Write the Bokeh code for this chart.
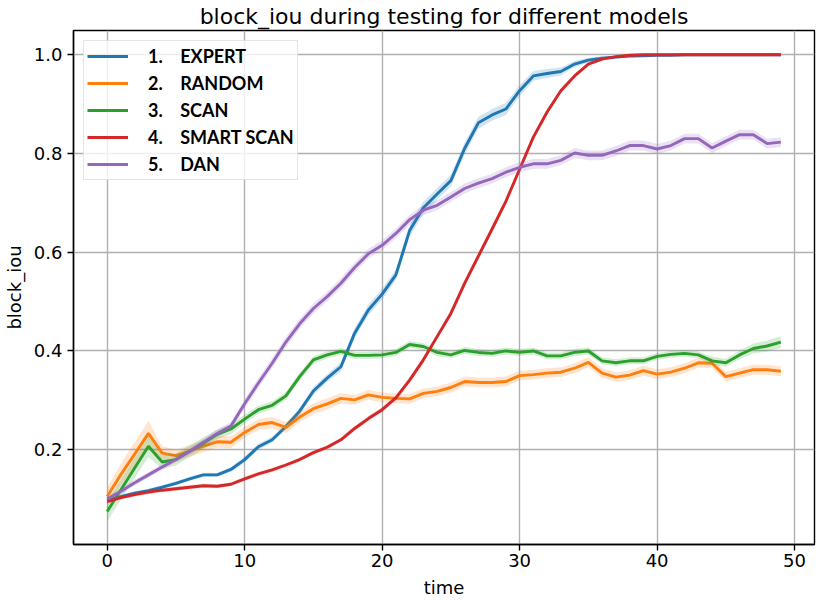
from bokeh.plotting import figure
from bokeh.models import ColumnDataSource, Legend, LegendItem, FixedTicker, PrintfTickFormatter, Range1d
from bokeh.embed import file_html
from bokeh.resources import INLINE

time = list(range(50))

expert = [0.098, 0.105, 0.112, 0.117, 0.124, 0.132, 0.141, 0.149, 0.149, 0.160,
          0.180, 0.206, 0.220, 0.247, 0.278, 0.319, 0.345, 0.368, 0.436, 0.483,
          0.515, 0.554, 0.644, 0.690, 0.718, 0.745, 0.810, 0.862, 0.878, 0.890,
          0.927, 0.957, 0.962, 0.966, 0.981, 0.989, 0.993, 0.995, 0.997, 0.998,
          0.999, 0.999, 1.000, 1.000, 1.000, 1.000, 1.000, 1.000, 1.000, 1.000]
expert_sd = [0.004, 0.004, 0.004, 0.004, 0.004, 0.004, 0.004, 0.004, 0.004, 0.005,
             0.006, 0.006, 0.006, 0.006, 0.007, 0.008, 0.008, 0.009, 0.010, 0.011,
             0.011, 0.011, 0.012, 0.012, 0.012, 0.012, 0.012, 0.012, 0.012, 0.012,
             0.011, 0.010, 0.009, 0.008, 0.006, 0.005, 0.004, 0.003, 0.002, 0.002,
             0.001, 0.001, 0.001, 0.001, 0.001, 0.001, 0.001, 0.001, 0.001, 0.001]

random_ = [0.105, 0.150, 0.191, 0.233, 0.193, 0.188, 0.197, 0.207, 0.216, 0.215,
           0.235, 0.251, 0.255, 0.245, 0.266, 0.283, 0.293, 0.304, 0.301, 0.311,
           0.306, 0.304, 0.303, 0.314, 0.318, 0.326, 0.338, 0.336, 0.336, 0.338,
           0.350, 0.352, 0.355, 0.357, 0.365, 0.377, 0.355, 0.347, 0.351, 0.360,
           0.353, 0.357, 0.365, 0.376, 0.375, 0.348, 0.355, 0.362, 0.362, 0.359]
random_sd = [0.018, 0.022, 0.024, 0.025, 0.014, 0.012, 0.012, 0.012, 0.012, 0.012,
             0.011, 0.011, 0.011, 0.011, 0.011, 0.011, 0.011, 0.011, 0.010, 0.010,
             0.010, 0.010, 0.010, 0.010, 0.010, 0.010, 0.010, 0.010, 0.010, 0.010,
             0.010, 0.010, 0.010, 0.010, 0.010, 0.010, 0.010, 0.010, 0.010, 0.010,
             0.010, 0.010, 0.010, 0.010, 0.010, 0.010, 0.010, 0.010, 0.010, 0.010]

scan = [0.075, 0.119, 0.163, 0.207, 0.175, 0.180, 0.197, 0.213, 0.231, 0.242,
        0.262, 0.281, 0.290, 0.309, 0.348, 0.382, 0.392, 0.399, 0.391, 0.391,
        0.392, 0.397, 0.413, 0.409, 0.397, 0.392, 0.401, 0.397, 0.395, 0.400,
        0.397, 0.400, 0.390, 0.390, 0.397, 0.400, 0.380, 0.376, 0.380, 0.380,
        0.389, 0.393, 0.395, 0.392, 0.380, 0.376, 0.392, 0.405, 0.410, 0.418]
scan_sd = [0.020, 0.020, 0.020, 0.022, 0.014, 0.012, 0.012, 0.012, 0.010, 0.010,
           0.009, 0.008, 0.008, 0.008, 0.008, 0.008, 0.007, 0.007, 0.007, 0.007,
           0.007, 0.007, 0.007, 0.007, 0.007, 0.007, 0.007, 0.007, 0.007, 0.007,
           0.007, 0.007, 0.007, 0.007, 0.007, 0.007, 0.007, 0.007, 0.007, 0.007,
           0.007, 0.007, 0.007, 0.007, 0.008, 0.008, 0.009, 0.010, 0.011, 0.012]

smart_scan = [0.095, 0.103, 0.109, 0.114, 0.118, 0.121, 0.124, 0.127, 0.126, 0.130,
              0.141, 0.151, 0.159, 0.169, 0.180, 0.194, 0.205, 0.220, 0.243, 0.263,
              0.281, 0.305, 0.341, 0.382, 0.429, 0.476, 0.537, 0.592, 0.647, 0.703,
              0.768, 0.833, 0.884, 0.927, 0.957, 0.981, 0.991, 0.996, 0.999, 1.000,
              1.000, 1.000, 1.000, 1.000, 1.000, 1.000, 1.000, 1.000, 1.000, 1.000]
smart_scan_sd = [0.004, 0.004, 0.004, 0.004, 0.004, 0.004, 0.004, 0.004, 0.004, 0.004,
                 0.004, 0.004, 0.004, 0.004, 0.004, 0.004, 0.004, 0.004, 0.005, 0.005,
                 0.005, 0.005, 0.006, 0.006, 0.006, 0.007, 0.007, 0.007, 0.007, 0.007,
                 0.007, 0.006, 0.006, 0.005, 0.004, 0.003, 0.002, 0.001, 0.001, 0.001,
                 0.001, 0.001, 0.001, 0.001, 0.001, 0.001, 0.001, 0.001, 0.001, 0.001]

dan = [0.100, 0.116, 0.133, 0.149, 0.165, 0.180, 0.197, 0.215, 0.233, 0.248,
       0.293, 0.335, 0.375, 0.418, 0.455, 0.486, 0.510, 0.537, 0.569, 0.597,
       0.614, 0.638, 0.666, 0.685, 0.695, 0.712, 0.729, 0.740, 0.749, 0.762,
       0.772, 0.779, 0.779, 0.786, 0.801, 0.796, 0.796, 0.805, 0.816, 0.816,
       0.809, 0.816, 0.830, 0.830, 0.811, 0.825, 0.838, 0.838, 0.820, 0.823]
dan_sd = [0.006, 0.006, 0.006, 0.006, 0.006, 0.006, 0.007, 0.007, 0.008, 0.008,
          0.009, 0.010, 0.010, 0.010, 0.010, 0.010, 0.010, 0.010, 0.010, 0.010,
          0.010, 0.010, 0.010, 0.010, 0.010, 0.010, 0.010, 0.010, 0.010, 0.010,
          0.010, 0.010, 0.010, 0.010, 0.010, 0.010, 0.010, 0.010, 0.010, 0.010,
          0.010, 0.010, 0.010, 0.010, 0.010, 0.010, 0.010, 0.010, 0.010, 0.010]

labels = ["1.\u00a0\u00a0\u00a0\u00a0EXPERT", "2.\u00a0\u00a0\u00a0\u00a0RANDOM",
          "3.\u00a0\u00a0\u00a0\u00a0SCAN", "4.\u00a0\u00a0\u00a0\u00a0SMART SCAN",
          "5.\u00a0\u00a0\u00a0\u00a0DAN"]
colors = ["#1f77b4", "#ff7f0e", "#2ca02c", "#d62728", "#9467bd"]
series = [(expert, expert_sd), (random_, random_sd), (scan, scan_sd),
          (smart_scan, smart_scan_sd), (dan, dan_sd)]

x_ticks = [0, 10, 20, 30, 40, 50]
y_ticks = [0.2, 0.4, 0.6, 0.8, 1.0]

FONT = "DejaVu Sans"

p = figure(width=816, height=600, output_backend="svg", toolbar_location=None,
           x_range=Range1d(-2.45, 51.45), y_range=Range1d(0.008, 1.049),
           title="block_iou during testing for different models",
           min_border_left=73, min_border_right=2, min_border_top=30, min_border_bottom=56)

p.title.align = "center"
p.title.text_font = FONT
p.title.text_font_size = "22px"
p.title.text_font_style = "normal"
p.title.text_color = "black"
p.title.offset = 0
p.title.standoff = 3

p.outline_line_color = "black"
p.outline_line_width = 1.4
p.outline_line_alpha = 1.0
p.background_fill_color = "white"
p.border_fill_color = "white"

for ax in (p.xaxis[0], p.yaxis[0]):
    ax.axis_line_color = "black"
    ax.axis_line_width = 1.4
    ax.major_tick_line_color = "black"
    ax.major_tick_line_width = 1.4
    ax.major_tick_out = 6
    ax.major_tick_in = 0
    ax.minor_tick_line_color = None
    ax.major_label_text_font = FONT
    ax.major_label_text_font_size = "18px"
    ax.major_label_text_color = "black"
    ax.axis_label_text_font = FONT
    ax.axis_label_text_font_size = "18px"
    ax.axis_label_text_font_style = "normal"
    ax.axis_label_text_color = "black"

p.xaxis[0].ticker = FixedTicker(ticks=x_ticks)
p.yaxis[0].ticker = FixedTicker(ticks=y_ticks)
p.yaxis[0].formatter = PrintfTickFormatter(format="%.1f")
p.xaxis[0].axis_label = "time"
p.yaxis[0].axis_label = "block_iou"
p.xaxis[0].major_label_standoff = 3
p.yaxis[0].major_label_standoff = 5
p.xaxis[0].axis_label_standoff = 7
p.yaxis[0].axis_label_standoff = 6

p.xgrid.grid_line_color = "#b0b0b0"
p.ygrid.grid_line_color = "#b0b0b0"
p.xgrid.grid_line_width = 1.4
p.ygrid.grid_line_width = 1.4

items = []
for (vals, sd), col, lab in zip(series, colors, labels):
    src = ColumnDataSource(dict(
        x=time, y=vals,
        lo=[v - s for v, s in zip(vals, sd)],
        hi=[v + s for v, s in zip(vals, sd)]))
    p.varea(x="x", y1="lo", y2="hi", source=src, fill_color=col, fill_alpha=0.2)
    r = p.line(x="x", y="y", source=src, line_color=col, line_width=2.9)
    items.append(LegendItem(label=lab, renderers=[r]))

legend = Legend(items=items, location="top_left", margin=10, padding=3,
                label_text_font="Lato", label_text_font_style="bold",
                label_text_font_size="18px", label_text_color="black",
                glyph_width=41, glyph_height=24, label_height=24, spacing=3,
                label_standoff=20,
                border_line_color="#cccccc", border_line_width=1.2,
                background_fill_color="white", background_fill_alpha=0.8)
p.add_layout(legend)

open("out.html", "w").write(file_html(p, INLINE))
